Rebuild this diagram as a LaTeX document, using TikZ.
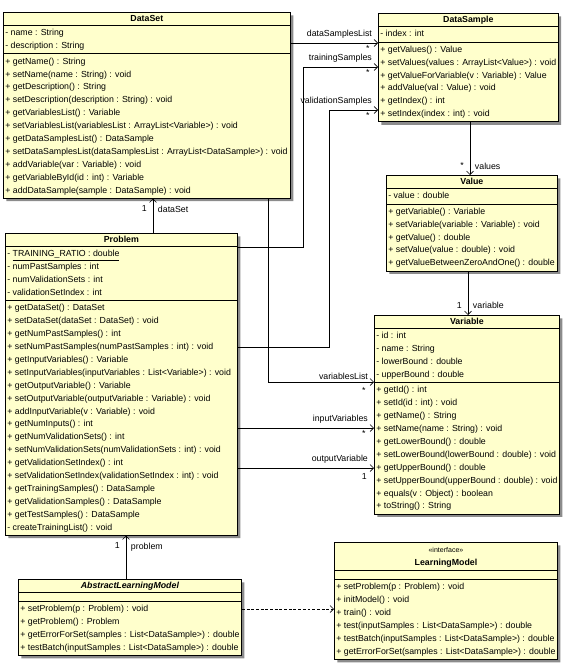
\documentclass[tikz,border=0pt]{standalone}
\usepackage{fontspec}
\setmainfont{Liberation Sans}
\usetikzlibrary{shapes.multipart,shadows,arrows.meta}
\definecolor{classfill}{RGB}{255,255,204}
\newcommand{\tstrut}{\rule[-2pt]{0pt}{9pt}}

\begin{document}
\begin{tikzpicture}
  [x=0.03cm, y=-0.03cm,
   every node/.style={font=\fontsize{7.5}{11}\selectfont},
   umlclass/.style={draw, line width=0.6pt, fill=classfill, anchor=north west,
     rectangle split, rectangle split parts=3,
     rectangle split part align={center,left,left},
     rectangle split empty part height=3pt,
     align=left, inner xsep=0.06cm, inner ysep=0.8pt,
     drop shadow={shadow xshift=2.5pt, shadow yshift=-2.5pt, fill=black!45, opacity=1}},
   assoc/.style={line width=0.5pt, -{Straight Barb[length=3pt,width=6pt]}},
   realize/.style={assoc, dash pattern=on 2.5pt off 1.5pt},
   role/.style={inner sep=0pt},
   mult/.style={inner sep=0pt}]
  \useasboundingbox (0,0) rectangle (571,670);

  \node[umlclass, minimum width=8.61cm] (dataset) at (3,12)
    {\tstrut\textbf{DataSet}
     \nodepart{second}\strut- name : String\\
     - description : String\strut
     \nodepart{third}\strut+ getName() : String\\
     + setName(name : String) : void\\
     + getDescription() : String\\
     + setDescription(description : String) : void\\
     + getVariablesList() : Variable\\
     + setVariablesList(variablesList : ArrayList<Variable>) : void\\
     + getDataSamplesList() : DataSample\\
     + setDataSamplesList(dataSamplesList : ArrayList<DataSample>) : void\\
     + addVariable(var : Variable) : void\\
     + getVariableById(id : int) : Variable\\
     + addDataSample(sample : DataSample) : void\strut};

  \node[umlclass, minimum width=5.37cm] (datasample) at (378,13)
    {\tstrut\textbf{DataSample}
     \nodepart{second}\strut- index : int\strut
     \nodepart{third}\strut+ getValues() : Value\\
     + setValues(values : ArrayList<Value>) : void\\
     + getValueForVariable(v : Variable) : Value\\
     + addValue(val : Value) : void\\
     + getIndex() : int\\
     + setIndex(index : int) : void\strut};

  \node[umlclass, minimum width=5.13cm] (value) at (386,175)
    {\tstrut\textbf{Value}
     \nodepart{second}\strut- value : double\strut
     \nodepart{third}\strut+ getVariable() : Variable\\
     + setVariable(variable : Variable) : void\\
     + getValue() : double\\
     + setValue(value : double) : void\\
     + getValueBetweenZeroAndOne() : double\strut};

  \node[umlclass, minimum width=6.96cm] (problem) at (5,233)
    {\tstrut\textbf{Problem}
     \nodepart{second}\strut- \underline{TRAINING\_RATIO : double}\\
     - numPastSamples : int\\
     - numValidationSets : int\\
     - validationSetIndex : int\strut
     \nodepart{third}\strut+ getDataSet() : DataSet\\
     + setDataSet(dataSet : DataSet) : void\\
     + getNumPastSamples() : int\\
     + setNumPastSamples(numPastSamples : int) : void\\
     + getInputVariables() : Variable\\
     + setInputVariables(inputVariables : List<Variable>) : void\\
     + getOutputVariable() : Variable\\
     + setOutputVariable(outputVariable : Variable) : void\\
     + addInputVariable(v : Variable) : void\\
     + getNumInputs() : int\\
     + getNumValidationSets() : int\\
     + setNumValidationSets(numValidationSets : int) : void\\
     + getValidationSetIndex() : int\\
     + setValidationSetIndex(validationSetIndex : int) : void\\
     + getTrainingSamples() : DataSample\\
     + getValidationSamples() : DataSample\\
     + getTestSamples() : DataSample\\
     - createTrainingList() : void\strut};

  \node[umlclass, minimum width=5.49cm] (variable) at (374,315)
    {\tstrut\textbf{Variable}
     \nodepart{second}\strut- id : int\\
     - name : String\\
     - lowerBound : double\\
     - upperBound : double\strut
     \nodepart{third}\strut+ getId() : int\\
     + setId(id : int) : void\\
     + getName() : String\\
     + setName(name : String) : void\\
     + getLowerBound() : double\\
     + setLowerBound(lowerBound : double) : void\\
     + getUpperBound() : double\\
     + setUpperBound(upperBound : double) : void\\
     + equals(v : Object) : boolean\\
     + toString() : String\strut};

  \node[umlclass, minimum width=6.63cm] (alm) at (18,579)
    {\tstrut\textbf{\textit{AbstractLearningModel}}
     \nodepart{second}
     \nodepart{third}\strut+ setProblem(p : Problem) : void\\
     + getProblem() : Problem\\
     + getErrorForSet(samples : List<DataSample>) : double\\
     + testBatch(inputSamples : List<DataSample>) : double\strut};

  \node[umlclass, minimum width=6.69cm] (lmodel) at (334,542)
    {\begin{tabular}{@{}c@{}}{\fontsize{6}{8}\selectfont <<interface>>}\\
       \textbf{LearningModel}\end{tabular}
     \nodepart{second}
     \nodepart{third}\strut+ setProblem(p : Problem) : void\\
     + initModel() : void\\
     + train() : void\\
     + test(inputSamples : List<DataSample>) : double\\
     + testBatch(inputSamples : List<DataSample>) : double\\
     + getErrorForSet(samples : List<DataSample>) : double\strut};

  \draw[assoc] (dataset.east |- 0,43) -- (datasample.west |- 0,43)
    node[role, at end, anchor=south east, xshift=-5pt, yshift=4pt] {dataSamplesList}
    node[mult, at end, anchor=north east, xshift=-7pt, yshift=-2pt] {*};
  \draw[assoc] (problem.east |- 0,247) -| (303,67) -- (datasample.west |- 0,67)
    node[role, at end, anchor=south east, xshift=-5pt, yshift=4pt] {trainingSamples}
    node[mult, at end, anchor=north east, xshift=-7pt, yshift=-2pt] {*};
  \draw[assoc] (problem.east |- 0,347) -| (329,110) -- (datasample.west |- 0,110)
    node[role, at end, anchor=south east, xshift=-5pt, yshift=4pt] {validationSamples}
    node[mult, at end, anchor=north east, xshift=-7pt, yshift=-2pt] {*};
  \draw[assoc] (268,0 |- dataset.south) |- (variable.west |- 0,382)
    node[role, at end, anchor=south east, xshift=-5pt, yshift=2pt] {variablesList}
    node[mult, at end, anchor=north east, xshift=-7pt, yshift=-4pt] {*};
  \draw[assoc] (problem.east |- 0,428) -- (variable.west |- 0,428)
    node[role, at end, anchor=south east, xshift=-5pt, yshift=4pt] {inputVariables}
    node[mult, at end, anchor=north east, xshift=-7pt, yshift=-2pt] {*};
  \draw[assoc] (problem.east |- 0,468) -- (variable.west |- 0,468)
    node[role, at end, anchor=south east, xshift=-5pt, yshift=4pt] {outputVariable}
    node[mult, at end, anchor=north east, xshift=-6pt, yshift=-4pt] {1};

  \draw[assoc] (153,0 |- problem.north) -- (153,0 |- dataset.south)
    node[mult, at end, anchor=north east, xshift=-5pt, yshift=-6pt] {1}
    node[role, at end, anchor=north west, xshift=4pt, yshift=-6pt] {dataSet};
  \draw[assoc] (470,0 |- datasample.south) -- (470,0 |- value.north)
    node[mult, at end, anchor=south east, xshift=-5pt, yshift=5pt] {*}
    node[role, at end, anchor=south west, xshift=4pt, yshift=4pt] {values};
  \draw[assoc] (468,0 |- value.south) -- (468,0 |- variable.north)
    node[mult, at end, anchor=south east, xshift=-5pt, yshift=5pt] {1}
    node[role, at end, anchor=south west, xshift=4pt, yshift=5pt] {variable};
  \draw[assoc] (126,0 |- alm.north) -- (126,0 |- problem.south)
    node[mult, at end, anchor=north east, xshift=-5pt, yshift=-6pt] {1}
    node[role, at end, anchor=north west, xshift=4pt, yshift=-6pt] {problem};

  \draw[realize] (alm.east |- 0,609) -- (lmodel.west |- 0,609);
\end{tikzpicture}
\end{document}
